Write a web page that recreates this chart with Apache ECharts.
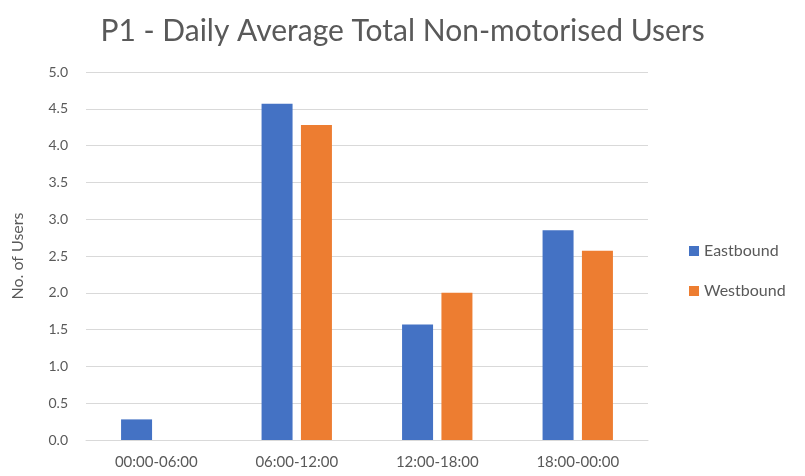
<!DOCTYPE html>
<html>
<head>
<meta charset="utf-8">
<script src="https://cdn.jsdelivr.net/npm/echarts@6/dist/echarts.min.js"></script>
<style>
  html, body { margin: 0; padding: 0; background: #fff; }
  #chart { width: 805px; height: 476px; }
</style>
</head>
<body>
<div id="chart"></div>
<script>
// time periods on the x axis
const periods = ['00:00-06:00', '06:00-12:00', '12:00-18:00', '18:00-00:00']
// daily average users per direction
const eastbound = [0.28, 4.57, 1.57, 2.85]
const westbound = [0, 4.28, 2.0, 2.57]
const yTicks = { min: 0, max: 5, interval: 0.5 }

const textColor = '#595959'
const gridColor = '#d9d9d9'

const chart = echarts.init(document.getElementById('chart'))

const option = {
  animation: false,
  title: {
    text: 'P1 - Daily Average Total Non-motorised Users',
    left: 'center',
    top: 11,
    textStyle: {
      fontFamily: 'Lato',
      fontSize: 30,
      fontWeight: 'normal',
      color: textColor
    }
  },
  legend: {
    orient: 'vertical',
    left: 684,
    top: 238,
    itemWidth: 10,
    itemHeight: 10,
    itemGap: 24,
    icon: 'rect',
    textStyle: {
      fontFamily: 'Lato',
      fontSize: 16,
      color: textColor
    },
    data: ['Eastbound', 'Westbound']
  },
  grid: {
    left: 86,
    right: 157,
    top: 72,
    bottom: 36
  },
  xAxis: {
    type: 'category',
    data: periods,
    axisLine: { lineStyle: { color: gridColor, width: 1 } },
    axisTick: { show: false },
    axisLabel: {
      fontFamily: 'Lato',
      fontSize: 15,
      color: textColor,
      margin: 15
    }
  },
  yAxis: {
    type: 'value',
    min: yTicks.min,
    max: yTicks.max,
    interval: yTicks.interval,
    name: 'No. of Users',
    nameLocation: 'middle',
    nameGap: 60,
    nameTextStyle: {
      fontFamily: 'Lato',
      fontSize: 16,
      color: textColor
    },
    axisLine: { show: false },
    axisTick: { show: false },
    axisLabel: {
      fontFamily: 'Lato',
      fontSize: 14,
      color: textColor,
      margin: 18,
      formatter: v => v.toFixed(1)
    },
    splitLine: { lineStyle: { color: gridColor, width: 1 } }
  },
  series: [
    {
      name: 'Eastbound',
      type: 'bar',
      data: eastbound,
      barWidth: 31,
      barGap: '27%',
      itemStyle: { color: '#4472C4' }
    },
    {
      name: 'Westbound',
      type: 'bar',
      data: westbound,
      barWidth: 31,
      itemStyle: { color: '#ED7D31' }
    }
  ]
}

chart.setOption(option)
</script>
</body>
</html>
